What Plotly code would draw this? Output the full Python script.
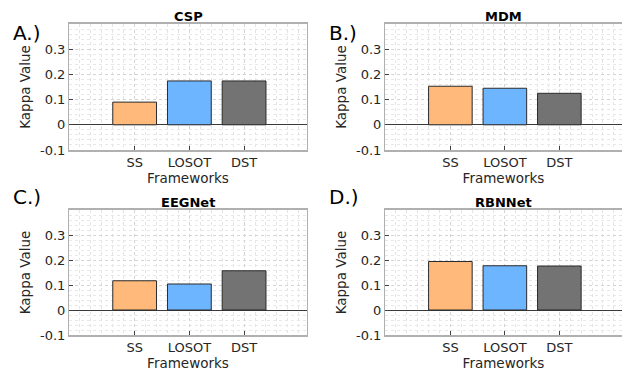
import plotly.graph_objects as go

categories = ["SS", "LOSOT", "DST"]
titles = ["CSP", "MDM", "EEGNet", "RBNNet"]
panel_labels = ["A.)", "B.)", "C.)", "D.)"]
csp = [0.090, 0.174, 0.174]
mdm = [0.153, 0.145, 0.125]
eegnet = [0.117, 0.104, 0.157]
rbnnet = [0.194, 0.177, 0.176]
series = [csp, mdm, eegnet, rbnnet]
bar_colors = ["#FFB97A", "#6EB5FF", "#737373"]
ytick_vals = [-0.1, 0, 0.1, 0.2, 0.3]
ytick_text = ["-0.1", "0", "0.1", "0.2", "0.3"]

OFF = 8  # page body margin
W, H = 630 - OFF, 371 - OFF
FONT = "DejaVu Sans"
TXT = "#262626"

# pixel boxes in window coords (left, right, top, bottom)
boxes = [(69, 307, 24, 150), (385, 622, 24, 150), (69, 307, 210, 335), (385, 622, 210, 335)]
label_pos = [(11, 33), (327, 33), (11, 197), (327, 197)]

fig = go.Figure()
layout = dict(
    width=W, height=H, margin=dict(l=0, r=0, t=0, b=0),
    paper_bgcolor="white", plot_bgcolor="white", showlegend=False,
    font=dict(family=FONT, color=TXT, size=12),
    annotations=[], shapes=[],
)
xpos = [1, 2, 3]
for i, (vals, title) in enumerate(zip(series, titles)):
    n = "" if i == 0 else str(i + 1)
    l, r, t, b = [v - OFF for v in boxes[i]]
    fig.add_trace(go.Bar(
        x=xpos, y=vals, width=0.8,
        marker=dict(color=bar_colors, line=dict(color="#2b2b2b", width=1)),
        xaxis="x" + n, yaxis="y" + n, hoverinfo="skip",
    ))
    layout["xaxis" + n] = dict(
        domain=[l / W, r / W], anchor="y" + n, range=[-0.2, 4.15],
        tickmode="array", tickvals=xpos, ticktext=categories,
        showgrid=True, gridcolor="#d4d4d4", griddash="dot", gridwidth=1,
        minor=dict(tickmode="linear", tick0=0, dtick=0.2, showgrid=True,
                   gridcolor="#e4e4e4", griddash="dot", gridwidth=1, ticks=""),
        showline=True, linecolor="#b0b0b0", linewidth=1.5, mirror=True,
        ticks="inside", ticklen=4, tickcolor="#404040",
        zeroline=False, fixedrange=True, automargin=False,
        tickfont=dict(size=13, color=TXT, family=FONT),
        title=dict(text="Frameworks", font=dict(size=13.5, color=TXT, family=FONT), standoff=2),
    )
    layout["yaxis" + n] = dict(
        domain=[1 - b / H, 1 - t / H], anchor="x" + n, range=[-0.1, 0.4],
        tickmode="array", tickvals=ytick_vals, ticktext=ytick_text,
        showgrid=True, gridcolor="#d4d4d4", griddash="dot", gridwidth=1,
        minor=dict(tickmode="linear", tick0=0, dtick=0.02, showgrid=True,
                   gridcolor="#e8e8e8", griddash="dot", gridwidth=1, ticks=""),
        showline=True, linecolor="#b0b0b0", linewidth=1, mirror=True,
        ticks="inside", ticklen=4, tickcolor="#404040",
        zeroline=True, zerolinecolor="#3a3a3a", zerolinewidth=1,
        fixedrange=True, automargin=False,
        tickfont=dict(size=13, color=TXT, family=FONT),
        title=dict(text="Kappa Value", font=dict(size=13.5, color=TXT, family=FONT), standoff=6),
    )
    layout["annotations"].append(dict(
        text="<b>" + title + "</b>", x=(l + r) / 2 / W, y=1 - (t - 7.5) / H,
        xref="paper", yref="paper", xanchor="center", yanchor="middle",
        showarrow=False, borderpad=0,
        font=dict(size=13, color="#000000", family=FONT),
    ))
    lx, ly = label_pos[i]
    layout["annotations"].append(dict(
        text=panel_labels[i], x=(lx - OFF) / W, y=1 - (ly - OFF) / H,
        xref="paper", yref="paper", xanchor="left", yanchor="middle",
        showarrow=False, font=dict(size=20, color="#000000", family=FONT),
    ))

fig.update_layout(**layout)
fig.write_html("out.html")
